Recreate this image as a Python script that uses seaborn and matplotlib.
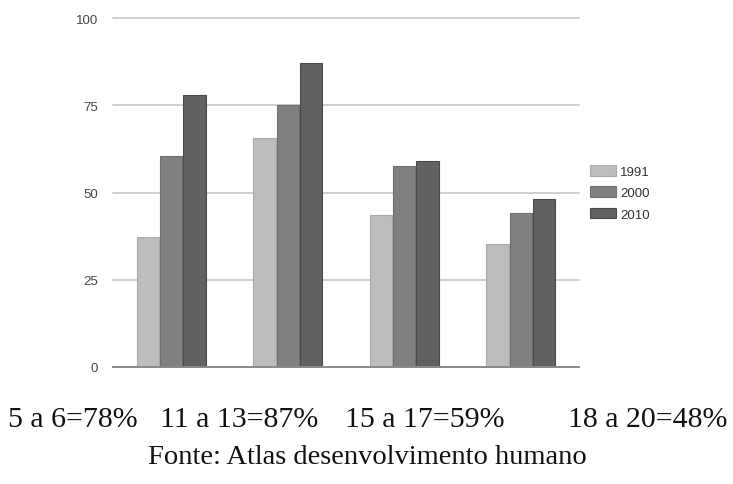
import matplotlib
matplotlib.use("Agg")
import matplotlib.pyplot as plt
import seaborn as sns
import pandas as pd

# Data
faixas = ["5 a 6", "11 a 13", "15 a 17", "18 a 20"]
anos = ["1991", "2000", "2010"]
v1991 = [37.2, 65.6, 43.6, 35.3]
v2000 = [60.4, 75.1, 57.5, 44.0]
v2010 = [78, 87, 59, 48]
yticks = [0, 25, 50, 75, 100]
resumo = ["5 a 6=78%", "11 a 13=87%", "15 a 17=59%", "18 a 20=48%"]
fonte = "Fonte: Atlas desenvolvimento humano"

df = pd.DataFrame({
    "faixa": faixas * 3,
    "ano": [a for a in anos for _ in faixas],
    "valor": v1991 + v2000 + v2010,
})

sns.set_theme(style="white")
plt.rcParams["font.family"] = ["Liberation Sans", "DejaVu Sans"]

fig = plt.figure(figsize=(7.33, 4.85), dpi=100)
ax = fig.add_axes([113 / 733, 1 - 368 / 485, 466 / 733, 349 / 485])

palette = {"1991": "#bdbdbd", "2000": "#808080", "2010": "#616161"}
edges = ["#aaaaaa", "#6e6e6e", "#4a4a4a"]

sns.barplot(data=df, x="faixa", y="valor", hue="ano", order=faixas,
            hue_order=anos, palette=palette, saturation=1, width=0.6,
            gap=0.04, linewidth=0.8, ax=ax)
for cont, ec in zip(ax.containers, edges):
    for bar in cont:
        bar.set_edgecolor(ec)

ax.set_xlim(-0.5, 3.5)
ax.set_ylim(0, 100)
ax.set_yticks(yticks)
ax.set_xticks([])
ax.set_xlabel("")
ax.set_ylabel("")
ax.yaxis.grid(True, color="#cccccc", lw=1.3)
for gl in ax.get_ygridlines():
    gl.set_clip_on(False)
ax.set_axisbelow(True)
for s in ["left", "right", "top"]:
    ax.spines[s].set_visible(False)
ax.spines["bottom"].set_color("#8a8a8a")
ax.spines["bottom"].set_linewidth(1.4)
ax.tick_params(axis="y", length=0, pad=11, labelsize=9.5, labelcolor="#444444")

handles, labels = ax.get_legend_handles_labels()
for h, ec in zip(handles, edges):
    h.set_edgecolor(ec)
ax.legend(handles, labels, loc="upper left",
          bbox_to_anchor=(590 / 733, 1 - 166 / 485),
          bbox_transform=fig.transFigure, frameon=False, fontsize=9.5,
          handlelength=2.0, handleheight=0.85, labelspacing=0.65,
          handletextpad=0.3, borderaxespad=0, borderpad=0,
          labelcolor="#333333")

serif = ["Liberation Serif", "DejaVu Serif"]
for s, x in zip(resumo, [8, 160, 345, 568]):
    fig.text(x / 733, 1 - 427 / 485, s, ha="left", va="baseline",
             fontsize=21.5, family=serif, color="#111111")
fig.text(367 / 733, 1 - 464 / 485, fonte, ha="center", va="baseline",
         fontsize=20.5, family=serif, color="#111111")

fig.savefig("out.png", dpi=100)
